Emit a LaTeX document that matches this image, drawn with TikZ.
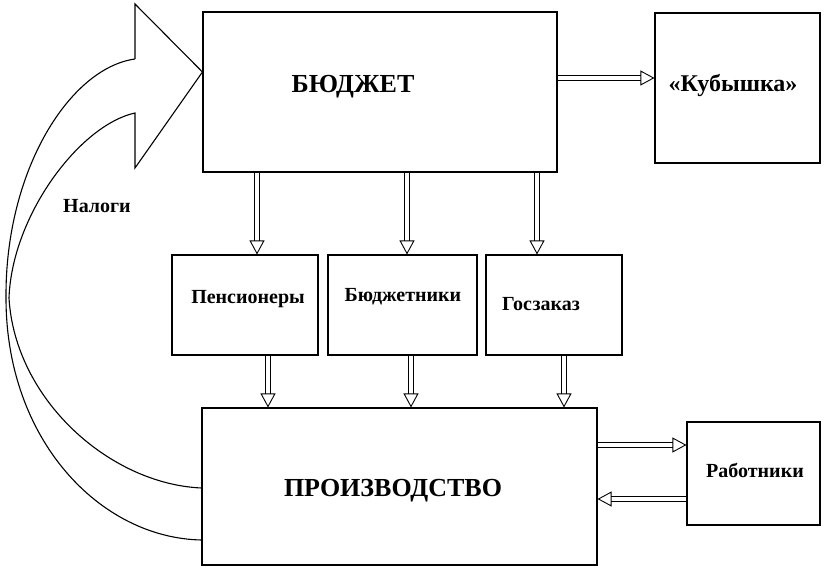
\documentclass[tikz,border=0pt]{standalone}
\usepackage{fontspec}
\setmainfont{Liberation Serif}
\usetikzlibrary{arrows.meta}

\tikzset{
  box/.style={draw, line width=1.1pt, inner sep=0pt},
  lbl/.style={font=\bfseries\fontsize{20}{22}\selectfont},
  title/.style={font=\bfseries\fontsize{26}{28}\selectfont},
  hollow/.style={double, double distance=4pt, line width=0.9pt,
    -{Triangle[open, length=14pt, width=15pt]}}
}

\begin{document}
\begin{tikzpicture}[x=1pt,y=-1pt]
  \useasboundingbox (0,0) rectangle (836,572);

  % boxes
  \node[box, minimum width=354pt, minimum height=160pt] (budget) at (380,92) {};
  \node[box, minimum width=165pt, minimum height=150pt] (kub) at (737.5,88) {};
  \node[box, minimum width=146pt, minimum height=100pt] (pens) at (245,305) {};
  \node[box, minimum width=149pt, minimum height=100pt] (bud) at (402.5,305) {};
  \node[box, minimum width=136pt, minimum height=100pt] (gos) at (554,305) {};
  \node[box, minimum width=395pt, minimum height=157pt] (prod) at (399.5,486.5) {};
  \node[box, minimum width=133pt, minimum height=103pt] (rab) at (753.5,473.5) {};

  % texts
  \node[title] (budgettext) at (353,87) {БЮДЖЕТ};
  \node[lbl, font=\bfseries\fontsize{24}{26}\selectfont] (kubtext) at (733,86) {«Кубышка»};
  \node[lbl] (penstext) at (248,299) {Пенсионеры};
  \node[lbl] (budtext) at (403,297) {Бюджетники};
  \node[lbl] (gostext) at (541,304) {Госзаказ};
  \node[title] (prodtext) at (393,491) {ПРОИЗВОДСТВО};
  \node[lbl] (rabtext) at (755,470) {Работники};
  \node[lbl] (tax) at (97,206) {Налоги};

  % flows
  \draw[hollow] (budget.east |- 0,78) -- (kub.west |- 0,78);
  \foreach \x/\n in {257/pens, 407/bud, 537/gos}
    \draw[hollow] (budget.south -| \x,0) -- (\n.north -| \x,0);
  \foreach \x/\n in {268/pens, 411/bud, 564/gos}
    \draw[hollow] (\n.south -| \x,0) -- (prod.north -| \x,0);
  \draw[hollow] (prod.east |- 0,445) -- (rab.west |- 0,445);
  \draw[hollow] (rab.west |- 0,499) -- (prod.east |- 0,499);

  % taxes
  \coordinate (tip) at (budget.west |- 0,72);
  \draw[line width=1.1pt, line join=miter]
    (135,59) -- (135,4) -- (tip) -- (135,168) -- (135,113)
    .. controls (80,125) and (12,215) .. (9,298)
    .. controls (15,400) and (110,484) .. (prod.west |- 0,488);
  \draw[line width=1.1pt]
    (135,59) .. controls (70,68) and (5,170) .. (6,298)
    .. controls (6,440) and (100,538) .. (prod.west |- 0,540);
\end{tikzpicture}
\end{document}
